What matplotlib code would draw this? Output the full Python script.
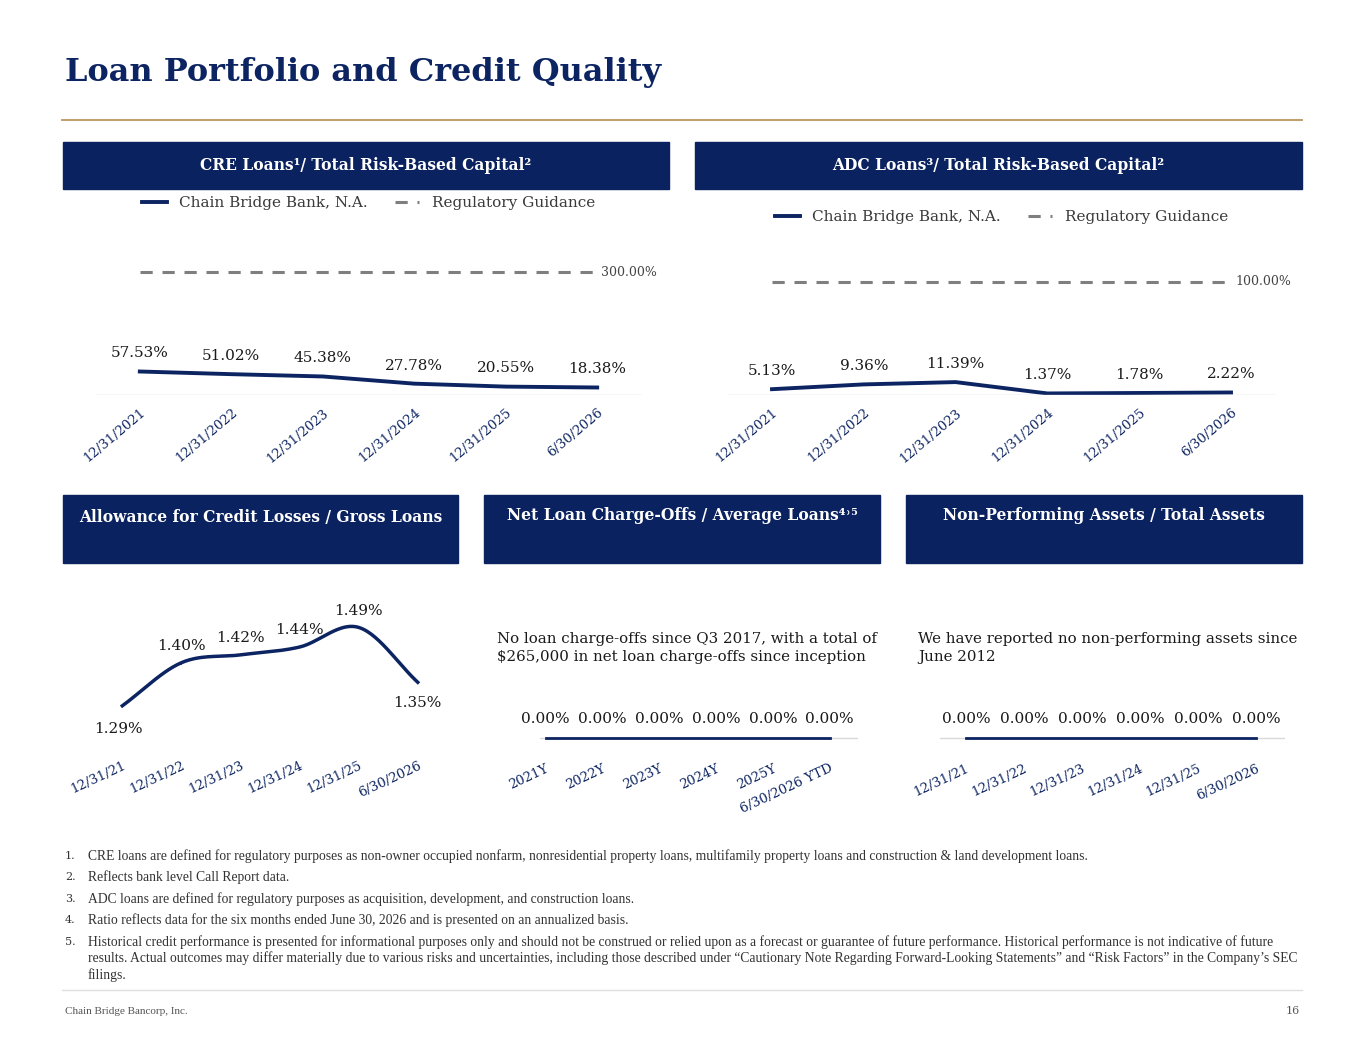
import numpy as np
import matplotlib.pyplot as plt
from matplotlib.lines import Line2D

W, H = 1365, 1055
NAVY = '#0c2461'
GRAY = '#7f7f7f'
GOLD = '#b8975a'
SERIF = ['DejaVu Serif']

cre_dates = ['12/31/2021', '12/31/2022', '12/31/2023', '12/31/2024', '12/31/2025', '6/30/2026']
cre_vals = [57.53, 51.02, 45.38, 27.78, 20.55, 18.38]
cre_guide = 300.0

adc_dates = cre_dates
adc_vals = [5.13, 9.36, 11.39, 1.37, 1.78, 2.22]
adc_guide = 100.0

acl_dates = ['12/31/21', '12/31/22', '12/31/23', '12/31/24', '12/31/25', '6/30/2026']
acl_vals = [1.29, 1.40, 1.42, 1.44, 1.49, 1.35]

nco_dates = ['2021Y', '2022Y', '2023Y', '2024Y', '2025Y', '6/30/2026 YTD']
nco_vals = [0, 0, 0, 0, 0, 0]

npa_dates = ['12/31/21', '12/31/22', '12/31/23', '12/31/24', '12/31/25', '6/30/2026']
npa_vals = [0, 0, 0, 0, 0, 0]

footnotes = [
    "CRE loans are defined for regulatory purposes as non-owner occupied nonfarm, nonresidential property loans, multifamily property loans and construction & land development loans.",
    "Reflects bank level Call Report data.",
    "ADC loans are defined for regulatory purposes as acquisition, development, and construction loans.",
    "Ratio reflects data for the six months ended June 30, 2026 and is presented on an annualized basis.",
    "Historical credit performance is presented for informational purposes only and should not be construed or relied upon as a forecast or guarantee of future performance. Historical performance is not indicative of future\nresults. Actual outcomes may differ materially due to various risks and uncertainties, including those described under \u201cCautionary Note Regarding Forward-Looking Statements\u201d and \u201cRisk Factors\u201d in the Company\u2019s SEC\nfilings.",
]

plt.rcParams['font.family'] = SERIF
fig = plt.figure(figsize=(W / 100, H / 100), dpi=100)


def px_axes(x0, y0, x1, y1):
    ax = fig.add_axes([x0 / W, 1 - y1 / H, (x1 - x0) / W, (y1 - y0) / H])
    ax.set_facecolor('none')
    for s in ax.spines.values():
        s.set_visible(False)
    return ax


def fx(x):
    return x / W


def fy(y):
    return 1 - y / H


# title and rule
fig.text(fx(65), fy(72), 'Loan Portfolio and Credit Quality', color=NAVY, fontsize=23,
         fontweight='bold', va='center')
fig.add_artist(Line2D([fx(62), fx(1302)], [fy(120), fy(120)], color=GOLD, lw=1.3))


# header boxes
def header(x0, y0, x1, y1, text, ty=None):
    fig.patches.append(plt.Rectangle((fx(x0), fy(y1)), fx(x1 - x0), (y1 - y0) / H,
                                     transform=fig.transFigure, color='#0b2260'))
    fig.text(fx((x0 + x1) / 2), fy(ty if ty else (y0 + y1) / 2), text, color='white',
             fontsize=11.2, fontweight='bold', ha='center', va='center')


header(63, 142, 669, 189, 'CRE Loans\u00b9/ Total Risk-Based Capital\u00b2')
header(695, 142, 1302, 189, 'ADC Loans\u00b3/ Total Risk-Based Capital\u00b2')
header(63, 495, 458, 563, 'Allowance for Credit Losses / Gross Loans', 517)
header(484, 495, 880, 563, 'Net Loan Charge-Offs / Average Loans\u2074\u02d2\u2075', 516)
header(906, 495, 1302, 563, 'Non-Performing Assets / Total Assets', 516)


def ratio_chart(box, dates, vals, guide, top, leg_y, guide_lbl):
    ax = px_axes(*box)
    x = np.arange(len(vals))
    ax.plot(x, vals, color=NAVY, lw=2.8, label='Chain Bridge Bank, N.A.')
    ax.plot([0, len(vals) - 1], [guide, guide], color=GRAY, lw=2.2, ls=(0, (4, 3.2)),
            label='Regulatory Guidance')
    ax.axhline(0, color='#d9d9d9', lw=1)
    for xi, v in zip(x, vals):
        ax.annotate(f'{v:.2f}%', (xi, v), xytext=(0, 8), textcoords='offset points',
                    ha='center', va='bottom', color='#1a1a1a', fontsize=11)
    ax.annotate(guide_lbl, (len(vals) - 1, guide), xytext=(3, 0), textcoords='offset points',
                ha='left', va='center', color='#444444', fontsize=9)
    ax.set_xlim(-0.49, len(vals) - 0.51)
    ax.set_ylim(0, top)
    ax.set_yticks([])
    ax.set_xticks(x, dates, rotation=40, ha='right', rotation_mode='anchor',
                  color=NAVY, fontsize=9.5)
    ax.tick_params(length=0, pad=8)
    ax.legend(loc='center', bbox_to_anchor=(0.5, (box[3] - leg_y) / (box[3] - box[1])),
              ncol=2, frameon=False, fontsize=11, handlelength=1.6, columnspacing=1.8,
              labelcolor='#3a3a3a')


ratio_chart((95, 250, 642, 395), cre_dates, cre_vals, cre_guide, 355, 203, '300.00%')
ratio_chart((727, 250, 1276, 395), adc_dates, adc_vals, adc_guide, 128, 217, '100.00%')


# ACL smooth curve (Catmull-Rom through the data points)
def catmull(xs, ys, n=30):
    p = np.column_stack([xs, ys]).astype(float)
    p = np.vstack([2 * p[0] - p[1], p, 2 * p[-1] - p[-2]])
    out = []
    t = np.linspace(0, 1, n)[:, None]
    for i in range(1, len(p) - 2):
        p0, p1, p2, p3 = p[i - 1], p[i], p[i + 1], p[i + 2]
        seg = 0.5 * ((2 * p1) + (-p0 + p2) * t + (2 * p0 - 5 * p1 + 4 * p2 - p3) * t ** 2
                     + (-p0 + 3 * p1 - 3 * p2 + p3) * t ** 3)
        out.append(seg)
    out = np.vstack(out)
    return out[:, 0], out[:, 1]


ax = px_axes(65, 600, 455, 745)
x = np.arange(len(acl_vals))
cx, cy = catmull(x, acl_vals)
ax.plot(cx, cy, color=NAVY, lw=2.5)
for i, v in enumerate(acl_vals):
    if i == 0:
        off, va = (-3, -12), 'top'
    elif i == len(acl_vals) - 1:
        off, va = (0, -10), 'top'
    else:
        off, va = (0, 7), 'bottom'
    ax.annotate(f'{v:.2f}%', (i, v), xytext=off, textcoords='offset points',
                ha='center', va=va, color='#1a1a1a', fontsize=11)
ax.set_xlim(-0.97, 5.63)
ax.set_ylim(1.19, 1.56)
ax.set_yticks([])
ax.set_xticks(x, acl_dates, rotation=25, ha='right', rotation_mode='anchor', color=NAVY, fontsize=9.5)
ax.tick_params(length=0, pad=10)


def zero_chart(box, dates, vals, note, note_x):
    ax = px_axes(*box)
    x = np.arange(len(vals))
    ax.axhline(0, color='#d9d9d9', lw=1)
    ax.plot(x, vals, color=NAVY, lw=2)
    for xi, v in zip(x, vals):
        ax.annotate(f'{v:.2f}%', (xi, v), xytext=(0, 9), textcoords='offset points',
                    ha='center', va='bottom', color='#1a1a1a', fontsize=11)
    ax.set_ylim(-1, 5)
    ax.set_yticks([])
    ax.set_xticks(x, dates, rotation=25, ha='right', rotation_mode='anchor', color=NAVY, fontsize=9.5)
    ax.tick_params(length=0, pad=10)
    fig.text(fx(note_x), fy(648), note, fontsize=10.8, color='#1a1a1a', va='center', linespacing=1.45)
    return ax


a = zero_chart((540, 690, 858, 748), nco_dates, nco_vals,
               'No loan charge-offs since Q3 2017, with a total of\n$265,000 in net loan charge-offs since inception', 497)
a.set_xlim(-0.1, 5.5)
a = zero_chart((940, 690, 1285, 748), npa_dates, npa_vals,
               'We have reported no non-performing assets since\nJune 2012', 918)
a.set_xlim(-0.45, 5.5)

# footnotes
ys = [851, 872, 894, 915, 937]
for i, (t, y) in enumerate(zip(footnotes, ys)):
    fig.text(fx(65), fy(y), f'{i + 1}.', fontsize=8, color='#333333', va='top')
    fig.text(fx(88), fy(y - 2), t, fontsize=9.8, color='#333333', va='top', linespacing=1.25,
             family=['Liberation Serif'])

fig.add_artist(Line2D([fx(62), fx(1302)], [fy(990), fy(990)], color='#e0e0e0', lw=1))
fig.text(fx(65), fy(1011), 'Chain Bridge Bancorp, Inc.', fontsize=8, color='#555555', va='center',
         family=['Liberation Serif'])
fig.text(fx(1300), fy(1011), '16', fontsize=8, color='#555555', va='center', ha='right')

fig.savefig('out.png', dpi=100)
